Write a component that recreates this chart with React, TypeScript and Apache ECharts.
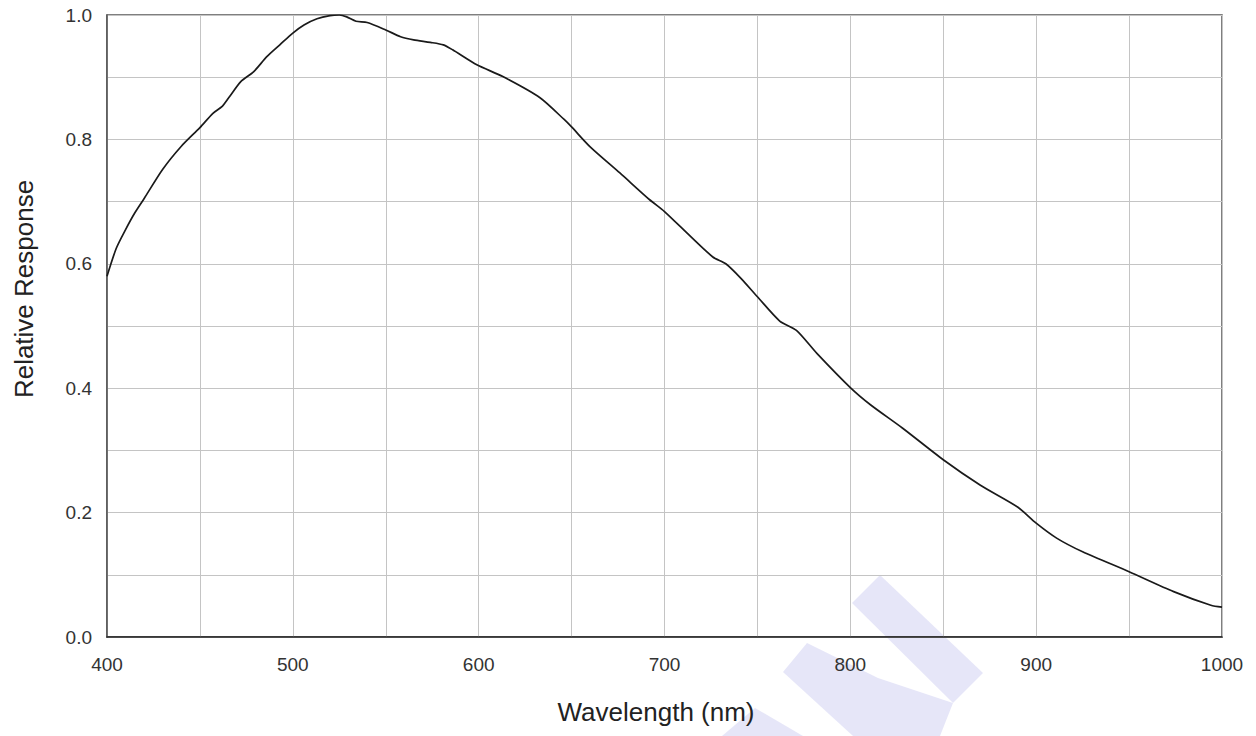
import React, { useEffect, useRef } from "react";
import * as echarts from "echarts";

// Wavelength (nm) and relative response
const wavelengths = [
  400, 405, 410, 415, 420, 430, 440, 450, 457, 462, 466, 472, 479, 486, 493,
  500, 506, 513, 520, 525, 529, 534, 540, 550, 558, 565, 574, 581, 586, 599,
  613, 633, 646, 650, 660, 676, 692, 700, 714, 726, 733, 741, 750, 762, 771,
  782, 800, 811, 828, 850, 870, 890, 900, 911, 925, 950, 974, 994, 1000,
];
const response = [
  0.58, 0.625, 0.655, 0.682, 0.705, 0.752, 0.789, 0.819, 0.842, 0.853, 0.869,
  0.893, 0.909, 0.933, 0.952, 0.971, 0.984, 0.994, 0.999, 1.0, 0.997, 0.99,
  0.988, 0.976, 0.965, 0.96, 0.956, 0.952, 0.944, 0.92, 0.901, 0.867, 0.832,
  0.82, 0.788, 0.746, 0.703, 0.684, 0.644, 0.611, 0.6, 0.577, 0.547, 0.508,
  0.493, 0.456, 0.401, 0.373, 0.336, 0.285, 0.244, 0.209, 0.183, 0.159, 0.137,
  0.105, 0.073, 0.051, 0.048,
];

const xTitle = "Wavelength (nm)";
const yTitle = "Relative Response";

export default function App() {
  const ref = useRef<HTMLDivElement>(null);

  useEffect(() => {
    document.body.style.margin = "0";
    if (!ref.current) return;
    const chart = echarts.init(ref.current, undefined, { renderer: "svg" });
    const data = wavelengths.map((w, i) => [w, response[i]]);
    const font = "'Liberation Sans', Arial, sans-serif";
    const wm = "rgba(229,229,248,0.95)";

    chart.setOption({
      animation: false,
      backgroundColor: "#ffffff",
      grid: {
        left: 107,
        right: 34,
        top: 15,
        bottom: 99,
        show: true,
        borderColor: "#555",
        borderWidth: 1.5,
        backgroundColor: "transparent",
      },
      xAxis: {
        type: "value",
        min: 400,
        max: 1000,
        interval: 100,
        axisLine: { show: true, lineStyle: { color: "#222", width: 1.5 } },
        axisTick: { show: false },
        axisLabel: {
          color: "#333",
          fontSize: 19,
          fontFamily: font,
          margin: 18,
          formatter: (v: number) => String(v),
        },
        splitLine: { show: true, lineStyle: { color: "#c4c4c4", width: 1 } },
        minorTick: { show: false, splitNumber: 2 },
        minorSplitLine: { show: true, lineStyle: { color: "#c4c4c4", width: 1 } },
      },
      yAxis: {
        type: "value",
        min: 0,
        max: 1,
        interval: 0.2,
        axisLine: { show: true, lineStyle: { color: "#555", width: 1.5 } },
        axisTick: { show: false },
        axisLabel: {
          color: "#333",
          fontSize: 19,
          fontFamily: font,
          margin: 15,
          formatter: (v: number) => v.toFixed(1),
        },
        splitLine: { show: true, lineStyle: { color: "#c4c4c4", width: 1 } },
        minorTick: { show: false, splitNumber: 2 },
        minorSplitLine: { show: true, lineStyle: { color: "#c4c4c4", width: 1 } },
      },
      graphic: [
        {
          type: "polygon",
          z: -10,
          silent: true,
          shape: { points: [[880, 575], [983, 673], [953, 703], [852, 603]] },
          style: { fill: wm },
        },
        {
          type: "polygon",
          z: -10,
          silent: true,
          shape: {
            points: [[807, 643], [878, 678], [953, 703], [940, 736], [853, 736], [783, 672]],
          },
          style: { fill: wm },
        },
        {
          type: "polygon",
          z: -10,
          silent: true,
          shape: { points: [[755, 708], [803, 736], [722, 736]] },
          style: { fill: wm },
        },
        {
          type: "text",
          x: 656,
          y: 712,
          style: {
            text: xTitle,
            fill: "#222",
            font: `26px ${font}`,
            align: "center",
            verticalAlign: "middle",
          },
        },
        {
          type: "text",
          x: 24,
          y: 289,
          rotation: Math.PI / 2,
          style: {
            text: yTitle,
            fill: "#222",
            font: `26px ${font}`,
            align: "center",
            verticalAlign: "middle",
          },
        },
      ],
      series: [
        {
          type: "line",
          data,
          showSymbol: false,
          smooth: 0.25,
          lineStyle: { color: "#1a1a1a", width: 1.7 },
        },
      ],
    });

    return () => chart.dispose();
  }, []);

  return <div ref={ref} style={{ width: 1256, height: 736 }} />;
}
